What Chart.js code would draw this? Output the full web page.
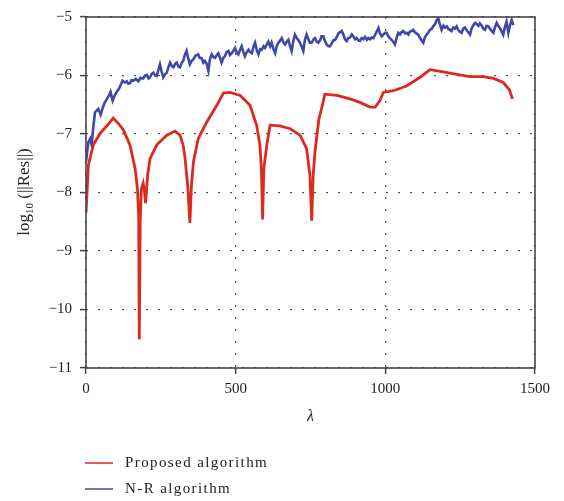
<!DOCTYPE html>
<html>
<head>
<meta charset="utf-8">
<script src="https://cdn.jsdelivr.net/npm/chart.js@4/dist/chart.umd.min.js"></script>
<style>
  body { margin: 0; background: #fff; }
  canvas { display: block; }
</style>
</head>
<body>
<canvas id="grafico" width="564" height="501"></canvas>
<script>
// Datos
const lambdaProposed = [0, 8, 24, 47, 70, 91, 110, 125, 147, 164, 172, 176, 178, 181, 185, 191, 195, 199, 206, 214,
    236, 270, 297, 314, 325, 331, 340, 347, 352, 359, 375, 403, 437, 459, 481, 515, 548, 570, 581, 586,
    590, 594, 604, 615, 648, 682, 715, 737, 748, 754, 759, 765, 772, 778, 790, 798, 838, 882, 915, 949,
    966, 982, 993, 1027, 1071, 1116, 1149, 1194, 1238, 1283, 1327, 1361, 1394, 1414, 1425];
const resProposed = [-8.35, -7.53, -7.19, -6.99, -6.86, -6.73, -6.83, -6.93, -7.19, -7.59, -7.95, -8.4, -10.51, -8.5, -7.95, -7.84, -7.95, -8.18, -7.7, -7.42,
    -7.19, -7.02, -6.95, -7.02, -7.2, -7.42, -7.9, -8.52, -7.9, -7.47, -7.08, -6.8, -6.51, -6.3, -6.29, -6.34, -6.51, -6.85, -7.19, -7.6,
    -8.46, -7.6, -7.19, -6.85, -6.86, -6.91, -7.02, -7.25, -7.7, -8.48, -7.7, -7.3, -7.0, -6.75, -6.5, -6.32, -6.34, -6.4, -6.46, -6.54,
    -6.54, -6.43, -6.29, -6.26, -6.18, -6.03, -5.9, -5.94, -5.98, -6.02, -6.02, -6.05, -6.12, -6.24, -6.4];

const lambdaNR = [0, 4, 8, 14, 19, 24, 30, 36, 41, 49, 56, 63, 70, 76, 82, 89, 95, 100, 111, 117,
    122, 130, 136, 141, 147, 152, 158, 166, 175, 182, 191, 197, 203, 209, 214, 220, 225, 231, 236, 242,
    247, 252, 258, 264, 270, 276, 281, 287, 292, 298, 303, 309, 314, 320, 325, 330, 336, 341, 347, 353,
    359, 366, 375, 380, 386, 392, 397, 403, 409, 414, 420, 425, 431, 437, 442, 448, 453, 459, 464, 470,
    476, 481, 487, 492, 498, 503, 509, 515, 520, 526, 531, 537, 543, 548, 554, 560, 565, 571, 576, 582,
    587, 593, 598, 604, 609, 615, 620, 626, 632, 637, 643, 649, 654, 660, 665, 671, 676, 682, 687, 693,
    698, 704, 709, 715, 720, 726, 731, 737, 743, 748, 754, 760, 765, 771, 776, 782, 787, 793, 799, 804,
    810, 815, 821, 826, 832, 838, 843, 849, 854, 860, 865, 871, 876, 882, 888, 893, 899, 904, 910, 915,
    921, 927, 932, 938, 943, 949, 955, 960, 966, 971, 977, 982, 988, 993, 999, 1004, 1010, 1015, 1021, 1027,
    1032, 1038, 1043, 1049, 1054, 1060, 1066, 1071, 1077, 1082, 1088, 1093, 1099, 1104, 1110, 1116, 1121, 1127, 1132, 1138,
    1143, 1149, 1155, 1160, 1166, 1171, 1177, 1182, 1188, 1194, 1199, 1205, 1210, 1216, 1221, 1227, 1232, 1238, 1243, 1249,
    1255, 1260, 1266, 1271, 1277, 1283, 1288, 1294, 1300, 1305, 1311, 1316, 1322, 1327, 1333, 1338, 1344, 1350, 1355, 1361,
    1366, 1372, 1377, 1383, 1388, 1394, 1399, 1405, 1411, 1416, 1422, 1428];
const resNR = [-7.47, -7.3, -7.14, -7.08, -7.19, -6.9, -6.63, -6.6, -6.57, -6.67, -6.55, -6.46, -6.4, -6.35, -6.28, -6.43, -6.35, -6.3, -6.22, -6.15,
    -6.09, -6.12, -6.1, -6.14, -6.13, -6.08, -6.09, -6.06, -6.1, -6.04, -6.05, -6.0, -5.99, -6.05, -6.03, -5.97, -5.95, -6.0, -6.01, -5.9,
    -5.81, -5.92, -6.03, -5.98, -5.95, -5.85, -5.78, -5.84, -5.86, -5.8, -5.78, -5.85, -5.86, -5.78, -5.75, -5.65, -5.58, -5.7, -5.81, -5.75,
    -5.72, -5.66, -5.64, -5.7, -5.7, -5.78, -5.75, -5.8, -5.92, -5.72, -5.64, -5.68, -5.7, -5.65, -5.62, -5.7, -5.78, -5.7, -5.67, -5.6,
    -5.58, -5.65, -5.62, -5.58, -5.53, -5.6, -5.64, -5.56, -5.5, -5.6, -5.67, -5.6, -5.56, -5.6, -5.62, -5.5, -5.44, -5.58, -5.64, -5.55,
    -5.56, -5.5, -5.53, -5.47, -5.42, -5.5, -5.44, -5.55, -5.62, -5.5, -5.44, -5.4, -5.36, -5.44, -5.47, -5.42, -5.39, -5.5, -5.58, -5.4,
    -5.3, -5.36, -5.39, -5.44, -5.5, -5.58, -5.4, -5.3, -5.38, -5.44, -5.44, -5.38, -5.36, -5.42, -5.44, -5.4, -5.33, -5.33, -5.42, -5.47,
    -5.5, -5.5, -5.45, -5.4, -5.39, -5.34, -5.28, -5.26, -5.24, -5.3, -5.38, -5.41, -5.36, -5.35, -5.3, -5.33, -5.38, -5.36, -5.4, -5.41,
    -5.36, -5.38, -5.34, -5.39, -5.36, -5.38, -5.35, -5.36, -5.3, -5.25, -5.19, -5.28, -5.33, -5.3, -5.27, -5.27, -5.33, -5.36, -5.39, -5.43,
    -5.47, -5.35, -5.27, -5.3, -5.26, -5.24, -5.28, -5.27, -5.3, -5.25, -5.24, -5.22, -5.26, -5.28, -5.3, -5.36, -5.4, -5.44, -5.35, -5.3,
    -5.27, -5.22, -5.2, -5.16, -5.12, -5.06, -5.02, -5.12, -5.22, -5.15, -5.18, -5.16, -5.2, -5.22, -5.24, -5.18, -5.2, -5.16, -5.22, -5.25,
    -5.27, -5.2, -5.18, -5.22, -5.26, -5.3, -5.2, -5.14, -5.1, -5.12, -5.15, -5.11, -5.15, -5.2, -5.22, -5.15, -5.16, -5.2, -5.24, -5.27,
    -5.18, -5.1, -5.15, -5.19, -5.24, -5.3, -5.18, -5.08, -5.27, -5.15, -5.05, -5.14];

const seriesNames = ['Proposed algorithm', 'N-R algorithm'];
const seriesColors = ['#dc2a1e', '#4047a8'];
const xTicks = [0, 500, 1000, 1500];
const yTicks = [-11, -10, -9, -8, -7, -6, -5];

const fontFamily = '"Liberation Serif", "DejaVu Serif", serif';

function toPoints(xs, ys) {
    return xs.map((x, i) => ({ x: x, y: ys[i] }));
}

// Marco, titulos de ejes y leyenda dibujados a mano
const extrasPlugin = {
    id: 'extras',
    afterDraw(chart) {
        const ctx = chart.ctx;
        const area = chart.chartArea;
        ctx.save();

        ctx.strokeStyle = '#454545';
        ctx.lineWidth = 1.6;
        ctx.strokeRect(area.left, area.top, area.right - area.left, area.bottom - area.top);

        // titulo eje y: log10 (||Res||)
        ctx.fillStyle = '#222';
        ctx.textBaseline = 'middle';
        ctx.translate(25, 192);
        ctx.rotate(-Math.PI / 2);
        ctx.font = '17px ' + fontFamily;
        const w1 = ctx.measureText('log').width;
        const w3 = ctx.measureText(' (||Res||)').width;
        ctx.font = '11px ' + fontFamily;
        const w2 = ctx.measureText('10').width;
        const x0 = -(w1 + w2 + w3) / 2;
        ctx.font = '17px ' + fontFamily;
        ctx.fillText('log', x0, 0);
        ctx.font = '11px ' + fontFamily;
        ctx.fillText('10', x0 + w1, 5);
        ctx.font = '17px ' + fontFamily;
        ctx.fillText(' (||Res||)', x0 + w1 + w2, 0);
        ctx.setTransform(1, 0, 0, 1, 0, 0);

        // titulo eje x
        ctx.font = 'italic 16px ' + fontFamily;
        ctx.textAlign = 'center';
        ctx.fillText('λ', (area.left + area.right) / 2, 417);

        // leyenda
        ctx.textAlign = 'left';
        ctx.font = '15px ' + fontFamily;
        if ('letterSpacing' in ctx) ctx.letterSpacing = '1.4px';
        const rows = [463, 489];
        seriesNames.forEach((name, i) => {
            ctx.strokeStyle = seriesColors[i];
            ctx.lineWidth = 1.5;
            ctx.beginPath();
            ctx.moveTo(85, rows[i]);
            ctx.lineTo(113, rows[i]);
            ctx.stroke();
            ctx.fillStyle = '#222';
            ctx.fillText(name, 125, rows[i]);
        });
        ctx.restore();
    }
};

const ctx = document.getElementById('grafico').getContext('2d');
const chart = new Chart(ctx, {
    type: 'line',
    data: {
        datasets: [{
            label: seriesNames[0],
            data: toPoints(lambdaProposed, resProposed),
            borderColor: seriesColors[0],
            borderWidth: 2.8,
            pointRadius: 0,
            tension: 0
        }, {
            label: seriesNames[1],
            data: toPoints(lambdaNR, resNR),
            borderColor: seriesColors[1],
            borderWidth: 2.6,
            pointRadius: 0,
            tension: 0
        }]
    },
    options: {
        responsive: false,
        animation: false,
        layout: { padding: { left: 0, top: 14, right: 29, bottom: 0 } },
        plugins: {
            legend: { display: false },
            tooltip: { enabled: false }
        },
        scales: {
            x: {
                type: 'linear',
                min: 0,
                max: 1500,
                afterBuildTicks: scale => { scale.ticks = xTicks.map(v => ({ value: v })); },
                afterFit: scale => { scale.height = 133; },
                ticks: {
                    color: '#222',
                    padding: 6,
                    font: { family: fontFamily, size: 15 },
                    callback: v => String(v)
                },
                grid: {
                    color: '#555',
                    lineWidth: 1.2,
                    tickLength: 6,
                    tickColor: '#444',
                    tickWidth: 1.5,
                    tickBorderDash: []
                },
                border: { display: false, dash: [2, 10] }
            },
            y: {
                min: -11,
                max: -5,
                afterBuildTicks: scale => { scale.ticks = yTicks.map(v => ({ value: v })); },
                afterFit: scale => { scale.width = 86; },
                ticks: {
                    color: '#222',
                    padding: 8,
                    font: { family: fontFamily, size: 15 },
                    callback: v => '\u2212' + Math.abs(v)
                },
                grid: {
                    color: '#555',
                    lineWidth: 1.2,
                    tickLength: 6,
                    tickColor: '#444',
                    tickWidth: 1.5,
                    tickBorderDash: []
                },
                border: { display: false, dash: [2, 10] }
            }
        }
    },
    plugins: [extrasPlugin]
});
</script>
</body>
</html>
